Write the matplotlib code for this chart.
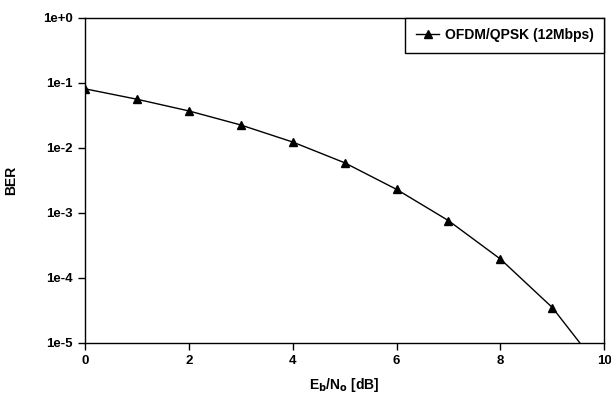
import matplotlib.pyplot as plt
from matplotlib.ticker import FixedLocator, FixedFormatter

# values
ebno_db = [0, 1, 2, 3, 4, 5, 6, 7, 8, 9, 10]
ber = [0.081, 0.056, 0.037, 0.0225, 0.0123, 0.0059, 0.0023, 7.6e-4, 1.95e-4, 3.5e-5, 3.3e-6]

y_ticks = [1e0, 1e-1, 1e-2, 1e-3, 1e-4, 1e-5]
y_tick_labels = ["1e+0", "1e-1", "1e-2", "1e-3", "1e-4", "1e-5"]
x_ticks = [0, 2, 4, 6, 8, 10]

plt.rcParams["font.family"] = ["Liberation Sans", "DejaVu Sans"]

fig = plt.figure(figsize=(6.11, 3.96), dpi=100)
ax = fig.add_axes([0.139, 0.134, 0.85, 0.821])

ax.plot(ebno_db, ber, color="black", linewidth=1.0, marker="^",
        markersize=6, label="OFDM/QPSK (12Mbps)")

ax.set_yscale("log")
ax.set_ylim(1e-5, 1e0)
ax.set_xlim(0, 10)
ax.yaxis.set_major_locator(FixedLocator(y_ticks))
ax.yaxis.set_major_formatter(FixedFormatter(y_tick_labels))
ax.yaxis.set_minor_locator(FixedLocator([]))
ax.set_xticks(x_ticks)

ax.tick_params(axis="both", direction="out", length=5, width=1, labelsize=9.5, pad=4)
for lbl in ax.get_xticklabels() + ax.get_yticklabels():
    lbl.set_fontweight("bold")
for s in ax.spines.values():
    s.set_linewidth(1.0)

ax.set_xlabel(r"E$_\mathbf{b}$/N$_\mathbf{o}$ [dB]", fontsize=10, fontweight="bold", labelpad=6)
ax.set_ylabel("BER", fontsize=10, fontweight="bold", labelpad=18)

leg = ax.legend(loc="upper right", borderaxespad=0, fancybox=False,
                framealpha=1, edgecolor="black",
                prop={"weight": "bold", "size": 10}, handlelength=1.7,
                handletextpad=0.4, borderpad=0.75)
leg.get_frame().set_linewidth(1.0)

fig.savefig("out.png", dpi=100)
